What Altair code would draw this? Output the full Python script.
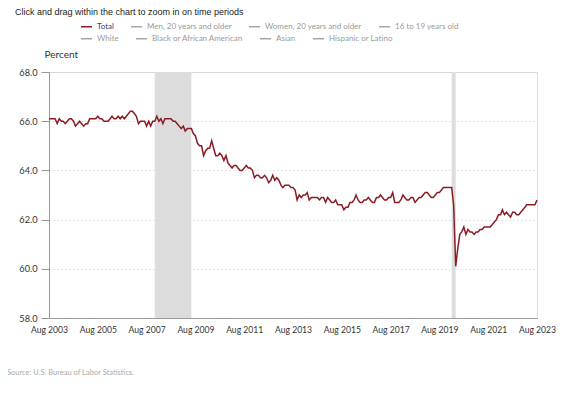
import altair as alt
import pandas as pd

# Labor force participation rate, monthly, Aug 2003 - Aug 2023
values = [
    # 2003 Aug-Dec
    66.1, 66.1, 66.1, 66.1, 65.9,
    # 2004
    66.1, 66.0, 66.0, 65.9, 66.0, 66.1, 66.1, 66.0, 65.8, 65.9, 66.0, 65.9,
    # 2005
    65.8, 65.9, 65.9, 66.1, 66.1, 66.1, 66.1, 66.2, 66.1, 66.1, 66.0, 66.0,
    # 2006
    66.0, 66.1, 66.2, 66.1, 66.1, 66.2, 66.1, 66.2, 66.1, 66.2, 66.3, 66.4,
    # 2007
    66.4, 66.3, 66.2, 65.9, 66.0, 66.0, 66.0, 65.8, 66.0, 65.8, 66.0, 66.0,
    # 2008
    66.2, 66.0, 66.1, 65.9, 66.1, 66.1, 66.1, 66.1, 66.0, 66.0, 65.9, 65.8,
    # 2009
    65.7, 65.8, 65.6, 65.7, 65.7, 65.7, 65.5, 65.4, 65.1, 65.0, 65.0, 64.6,
    # 2010
    64.8, 64.9, 64.9, 65.2, 64.9, 64.6, 64.6, 64.7, 64.6, 64.4, 64.6, 64.3,
    # 2011
    64.2, 64.1, 64.2, 64.2, 64.1, 64.0, 64.0, 64.1, 64.2, 64.1, 64.1, 64.0,
    # 2012
    63.7, 63.8, 63.8, 63.7, 63.7, 63.8, 63.7, 63.5, 63.6, 63.8, 63.6, 63.7,
    # 2013
    63.6, 63.4, 63.3, 63.4, 63.4, 63.4, 63.3, 63.3, 63.2, 62.8, 63.0, 62.9,
    # 2014
    63.0, 63.0, 63.1, 62.8, 62.9, 62.9, 62.9, 62.9, 62.8, 62.9, 62.9, 62.7,
    # 2015
    62.9, 62.8, 62.7, 62.7, 62.8, 62.6, 62.6, 62.6, 62.4, 62.5, 62.5, 62.7,
    # 2016
    62.7, 62.8, 63.0, 62.8, 62.7, 62.7, 62.8, 62.8, 62.9, 62.8, 62.7, 62.7,
    # 2017
    62.9, 62.9, 63.0, 62.9, 62.8, 62.8, 62.9, 62.9, 63.1, 62.7, 62.7, 62.7,
    # 2018
    62.8, 63.0, 62.9, 62.8, 62.8, 62.9, 62.9, 62.7, 62.8, 62.9, 62.9, 63.0,
    # 2019
    63.1, 63.1, 63.0, 62.9, 62.9, 63.0, 63.1, 63.1, 63.2, 63.3, 63.3, 63.3,
    # 2020
    63.3, 63.3, 62.6, 60.1, 60.8, 61.4, 61.5, 61.7, 61.4, 61.6, 61.5, 61.5,
    # 2021
    61.4, 61.5, 61.5, 61.6, 61.6, 61.7, 61.7, 61.7, 61.7, 61.8, 61.9, 62.0,
    # 2022
    62.2, 62.2, 62.4, 62.2, 62.3, 62.2, 62.1, 62.3, 62.3, 62.2, 62.2, 62.3,
    # 2023 Jan-Aug
    62.4, 62.5, 62.6, 62.6, 62.6, 62.6, 62.6, 62.8,
]
dates = pd.date_range("2003-08-01", periods=len(values), freq="MS").strftime("%Y-%m-%d").tolist()

legend_row1 = ["Total", "Men, 20 years and older", "Women, 20 years and older", "16 to 19 years old"]
legend_row2 = ["White", "Black or African American", "Asian", "Hispanic or Latino"]
row1_colors = ["#8b1c24", "#a6a6a6", "#a6a6a6", "#a6a6a6"]
row2_colors = ["#a6a6a6", "#a6a6a6", "#a6a6a6", "#a6a6a6"]

rec_start = ["2007-12-01", "2020-02-01"]
rec_end = ["2009-06-01", "2020-04-01"]

y_ticks = [58, 60, 62, 64, 66, 68]
x_tick_years = list(range(2003, 2024, 2))

df = pd.DataFrame({"date": dates, "value": values, "series": "Total", "series2": "White"})
rec = pd.DataFrame({"start": rec_start, "end": rec_end})

W, H = 488, 246
FONT = "Lato"

xscale = alt.Scale(type="utc", domain=[alt.DateTime(year=2003, month=8, date=1, utc=True),
                                      alt.DateTime(year=2023, month=8, date=1, utc=True)])
xaxis = alt.Axis(values=[alt.DateTime(year=y, month=8, date=1, utc=True) for y in x_tick_years],
                 format="%b %Y", title=None, grid=False, ticks=False,
                 domainColor="#999999", labelColor="#333333", labelFont=FONT,
                 labelFontSize=8.6, labelPadding=7, labelFlush=False)
yaxis = alt.Axis(values=y_ticks, format=".1f", title="Percent", titleAngle=0,
                 titleX=-5, titleY=-13, titleAlign="left", titleFont=FONT,
                 titleFontSize=10, titleFontWeight="normal", titleColor="#333333",
                 grid=True, gridDash=[1, 3], gridColor="#c8c8c8",
                 domainColor="#999999", tickColor="#999999", tickSize=8,
                 labelColor="#333333", labelFont=FONT, labelFontSize=9.2, labelPadding=4)
yscale = alt.Scale(domain=[58, 68], nice=False, zero=False)


def make_legend(ly):
    return alt.Legend(title=None, orient="none", legendX=31, legendY=ly,
                      direction="horizontal", columns=4,
                      columnPadding=14, symbolType="stroke", symbolSize=121,
                      symbolStrokeWidth=1.5, labelFont=FONT, labelFontSize=8.0,
                      labelColor=alt.ExprRef(expr="datum.label == 'Total' ? '#2d3a8c' : '#9a9a9a'"),
                      labelOffset=4)


shade = alt.Chart(rec).mark_rect(color="#dcdcdc").encode(
    x=alt.X("start:T", scale=xscale, axis=xaxis),
    x2="end:T",
)

line = alt.Chart(df).mark_line(strokeWidth=1.5).encode(
    x=alt.X("date:T", scale=xscale, axis=xaxis),
    y=alt.Y("value:Q", scale=yscale, axis=yaxis),
    color=alt.Color("series:N", scale=alt.Scale(domain=legend_row1, range=row1_colors),
                    legend=make_legend(-52)),
)

# second legend row (series listed in the legend but not drawn)
line2 = alt.Chart(df).transform_filter("false").mark_line(strokeWidth=1.5).encode(
    x=alt.X("date:T", scale=xscale, axis=xaxis),
    y=alt.Y("value:Q", scale=yscale, axis=yaxis),
    color=alt.Color("series2:N", scale=alt.Scale(domain=legend_row2, range=row2_colors),
                    legend=make_legend(-40)),
)

notes = pd.DataFrame({"t": ["Click and drag within the chart to zoom in on time periods"]})
title_txt = alt.Chart(notes).mark_text(align="left", baseline="alphabetic", font="Liberation Sans",
                                       fontSize=9, color="#222222").encode(
    x=alt.value(-34), y=alt.value(-57), text="t:N")

src = pd.DataFrame({"t": ["Source: U.S. Bureau of Labor Statistics."]})
src_txt = alt.Chart(src).mark_text(align="left", baseline="alphabetic", font=FONT,
                                   fontSize=7.5, color="#aaaaaa").encode(
    x=alt.value(-42), y=alt.value(H + 57), text="t:N")

chart = alt.layer(shade, line, line2, title_txt, src_txt).resolve_scale(
    color="independent"
).properties(
    width=W, height=H,
    autosize=alt.AutoSizeParams(type="none"),
    padding={"left": 41, "top": 64, "right": 25, "bottom": 67},
).configure_view(stroke=None).configure(background="white")

chart.save("out.html", embed_options={"renderer": "svg", "actions": False})
